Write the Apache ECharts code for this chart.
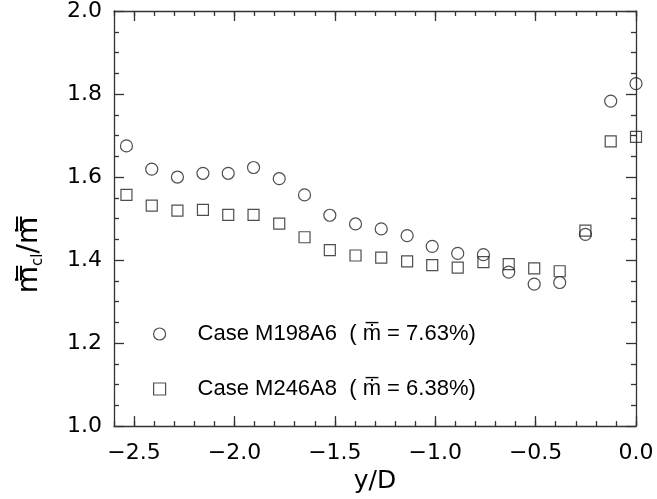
<!DOCTYPE html>
<html>
<head>
<meta charset="utf-8">
<script src="https://cdn.jsdelivr.net/npm/echarts@6/dist/echarts.min.js"></script>
<style>html,body{margin:0;padding:0;background:#fff}#c{width:657px;height:499px}</style>
</head>
<body>
<div id="c"></div>
<script>
// ---- data ----
const yOverD = [-2.538, -2.412, -2.284, -2.157, -2.031, -1.905, -1.777, -1.651, -1.525, -1.397, -1.269,
                -1.140, -1.015, -0.888, -0.760, -0.634, -0.507, -0.380, -0.252, -0.126, 0.0];
const caseM198A6 = [1.675, 1.619, 1.600, 1.609, 1.609, 1.623, 1.596, 1.557, 1.508, 1.487, 1.475,
                    1.459, 1.433, 1.416, 1.413, 1.371, 1.342, 1.346, 1.462, 1.783, 1.825];
const caseM246A8 = [1.557, 1.531, 1.519, 1.521, 1.509, 1.509, 1.488, 1.455, 1.424, 1.411, 1.406,
                    1.397, 1.388, 1.382, 1.395, 1.390, 1.380, 1.373, 1.471, 1.686, 1.697];
const xMajorTicks = [-2.5, -2.0, -1.5, -1.0, -0.5, 0.0];
const seriesNames = ['Case M198A6  ( \u1E41\u0305 = 7.63%)', 'Case M246A8  ( \u1E41\u0305 = 6.38%)'];

const axisColor = '#333';
const lineStyle = { color: axisColor, width: 1.3 };
const tickFont = { fontFamily: 'DejaVu Sans', fontSize: 22, color: '#000' };

function xAxisDef(pos, major) {
  const a = {
    type: 'value', min: -2.6, max: 0, position: pos, gridIndex: 0,
    splitLine: { show: false },
    axisLine: { show: major, onZero: false, lineStyle: lineStyle },
    axisLabel: { show: false },
    axisTick: { show: true, inside: true, length: major ? 10 : 5, lineStyle: lineStyle }
  };
  if (major) {
    a.axisTick.customValues = xMajorTicks;
    if (pos === 'bottom') {
      a.axisLabel = Object.assign({ show: true, customValues: xMajorTicks, margin: 16,
        formatter: v => v.toFixed(1).replace('-', '\u2212') }, tickFont);
      a.name = 'y/D';
      a.nameLocation = 'middle';
      a.nameGap = 32;
      a.nameTextStyle = { fontFamily: 'DejaVu Sans', fontSize: 25, color: '#000' };
    }
  } else {
    a.interval = 0.1;
  }
  return a;
}
function yAxisDef(pos) {
  return {
    type: 'value', min: 1.0, max: 2.0, interval: 0.2, position: pos,
    splitLine: { show: false },
    axisLine: { show: true, onZero: false, lineStyle: lineStyle },
    axisTick: { show: true, inside: true, length: 10, lineStyle: lineStyle },
    minorTick: { show: true, splitNumber: 4, length: 5, lineStyle: lineStyle },
    axisLabel: pos === 'left'
      ? Object.assign({ show: true, margin: 12, formatter: v => v.toFixed(1) }, tickFont)
      : { show: false }
  };
}

const markerStyle = { color: 'rgba(0,0,0,0)', borderColor: '#222', borderWidth: 1.2 };

const chart = echarts.init(document.getElementById('c'), null, { renderer: 'canvas' });
chart.setOption({
  backgroundColor: '#fff',
  animation: false,
  grid: { left: 114, right: 21, top: 10, height: 418 },
  xAxis: [xAxisDef('bottom', true), xAxisDef('bottom', false), xAxisDef('top', true), xAxisDef('top', false)],
  yAxis: [yAxisDef('left'), yAxisDef('right')],
  legend: {
    orient: 'vertical', left: 148, top: 317, itemGap: 31,
    itemWidth: 66, itemHeight: 12, symbolKeepAspect: true,
    textStyle: { fontFamily: 'Liberation Sans', fontSize: 22, color: '#000', lineHeight: 24 },
    data: [
      { name: seriesNames[0], icon: 'circle', itemStyle: markerStyle },
      { name: seriesNames[1], icon: 'path://M0,0L10,0L10,10L0,10Z', itemStyle: markerStyle }
    ]
  },
  graphic: [{
    type: 'text', x: 30, y: 255, rotation: Math.PI / 2,
    style: {
      text: '{m|\u1E41\u033F}{s|cl}{m|/\u1E41\u033F}',
      align: 'center', verticalAlign: 'middle', fill: '#000',
      rich: {
        m: { fontFamily: 'DejaVu Sans', fontSize: 28, fill: '#000', lineHeight: 32, verticalAlign: 'middle' },
        s: { fontFamily: 'DejaVu Sans', fontSize: 15, fill: '#000', lineHeight: 32, verticalAlign: 'bottom' }
      }
    }
  }],
  series: [
    { name: seriesNames[0], type: 'scatter', symbol: 'circle', symbolSize: 12,
      xAxisIndex: 0, yAxisIndex: 0, itemStyle: markerStyle,
      data: yOverD.map((x, i) => [x, caseM198A6[i]]) },
    { name: seriesNames[1], type: 'scatter', symbol: 'rect', symbolSize: 11,
      xAxisIndex: 0, yAxisIndex: 0, itemStyle: markerStyle,
      data: yOverD.map((x, i) => [x, caseM246A8[i]]) }
  ]
});
</script>
</body>
</html>
